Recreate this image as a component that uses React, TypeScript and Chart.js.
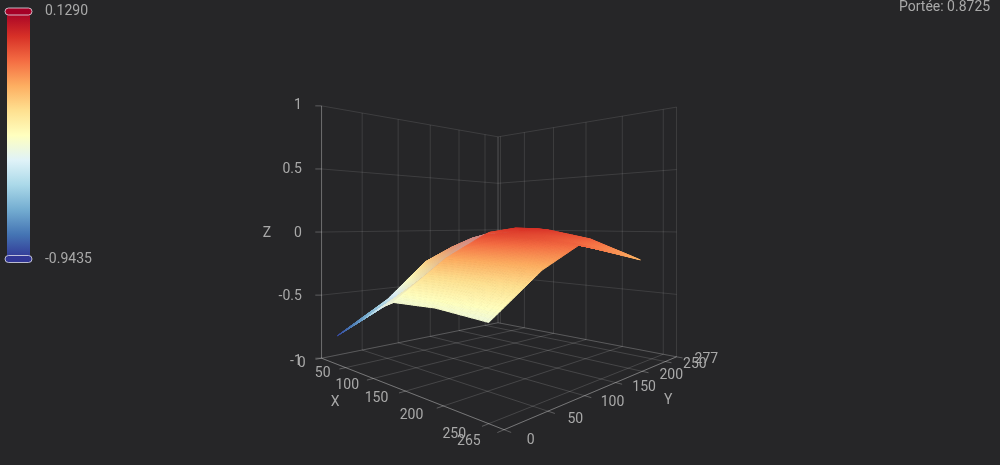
import React, { useEffect, useRef } from "react";
import { Chart, registerables } from "chart.js";

Chart.register(...registerables);

const xTicks = [0, 50, 100, 150, 200, 250, 265];
const yTicks = [0, 50, 100, 150, 200, 250, 277];
const zTicks = [-1, -0.5, 0, 0.5, 1];
const zLabels = ["-1", "-0.5", "0", "0.5", "1"];
const xWallExtra = [5];
const xMax = 265;
const yMax = 277;
const surfaceX = [33, 80, 113, 132, 190, 250];
const surfaceY = [0, 62, 115, 225];
const zRow0 = [-0.785, -0.62, -0.5, -0.45, -0.436, -0.46];
const zRow1 = [-0.555, -0.43, -0.28, -0.18, -0.19, -0.21];
const zRow2 = [-0.27, -0.13, -0.05, -0.02, -0.03, -0.07];
const zRow3 = [-0.02, 0.025, 0.02, 0.01, -0.06, -0.21];
const surfaceZ = [zRow0, zRow1, zRow2, zRow3];
const visualMin = -0.9435;
const visualMax = 0.129;
const rangeText = "Portée: 0.8725";
const palette = ["#313695", "#4575b4", "#74add1", "#abd9e9", "#e0f3f8", "#ffffbf", "#fee090", "#fdae61", "#f46d43", "#d73027", "#a50026"];

const BG = "#262628";
const TEXT = "#a9a9a9";
const FONT = "14px Roboto";

// camera
const CX = 500, CY = 232, A = 177.5, H = 125.5, T = 3, Q = 0.35, ROT = 0.015;

function projectN(sx: number, sy: number, sz: number) {
  const u0 = (sx + sy) / 2;
  const v0 = (sx - sy) / 2;
  const u = u0 + v0 * ROT;
  const v = v0 - u0 * ROT;
  const w = 1 - Q * v;
  return { x: CX + (A * u) / w, y: CY - (H * sz - T * v) / w, w };
}
const nx = (X: number) => (X / xMax) * 2 - 1;
const ny = (Y: number) => (Y / yMax) * 2 - 1;
const project = (X: number, Y: number, Z: number) => projectN(nx(X), ny(Y), Z);

type P = { x: number; y: number };
const GAP: P = { x: NaN, y: NaN };
function seg(list: P[], a: { x: number; y: number }, b: { x: number; y: number }) {
  list.push({ x: a.x, y: a.y }, { x: b.x, y: b.y }, GAP);
}

const wallLines: P[] = [];
yTicks.forEach((Y) => seg(wallLines, project(0, Y, -1), project(0, Y, 1)));
xTicks.concat(xWallExtra).forEach((X) => seg(wallLines, project(X, yMax, -1), project(X, yMax, 1)));
zTicks.forEach((Z) => {
  seg(wallLines, project(0, 0, Z), project(0, yMax, Z));
  seg(wallLines, project(0, yMax, Z), project(xMax, yMax, Z));
});

const floorLines: P[] = [];
xTicks.forEach((X) => seg(floorLines, project(X, 0, -1), project(X, yMax, -1)));
yTicks.forEach((Y) => seg(floorLines, project(0, Y, -1), project(xMax, Y, -1)));

const axisLines: P[] = [];
seg(axisLines, project(0, 0, -1), project(xMax, 0, -1));
seg(axisLines, project(xMax, 0, -1), project(xMax, yMax, -1));
seg(axisLines, project(0, 0, -1), project(0, 0, 1));
xTicks.forEach((X) => seg(axisLines, project(X, 0, -1), projectN(nx(X), -1.05, -1)));
yTicks.forEach((Y) => seg(axisLines, project(xMax, Y, -1), projectN(1.05, ny(Y), -1)));
zTicks.forEach((Z) => seg(axisLines, project(0, 0, Z), projectN(-1.035, -1.035, Z)));

const surfacePoints: P[] = [];
surfaceY.forEach((Y, j) => surfaceX.forEach((X, i) => {
  const p = project(X, Y, surfaceZ[j][i]);
  surfacePoints.push({ x: p.x, y: p.y });
}));

function hexRgb(h: string) {
  return [parseInt(h.slice(1, 3), 16), parseInt(h.slice(3, 5), 16), parseInt(h.slice(5, 7), 16)];
}
const paletteRgb = palette.map(hexRgb);
function colorAt(z: number, grey: number) {
  const t = Math.max(0, Math.min(1, (z - visualMin) / (visualMax - visualMin))) * (palette.length - 1);
  const i = Math.min(palette.length - 2, Math.floor(t));
  const f = t - i;
  const c = [0, 1, 2].map((k) => paletteRgb[i][k] * (1 - f) + paletteRgb[i + 1][k] * f);
  const g = [190, 178, 190];
  return `rgb(${c.map((v, k) => Math.round(v * (1 - grey) + g[k] * grey)).join(",")})`;
}

// lighting on the steep left wing of the surface (column index + fraction, row index + fraction)
function wingGrey(i: number, fa: number, j: number, fb: number) {
  if (i >= 3) return 0;
  const col = i === 0 ? 0.04 + 0.26 * fa : i === 1 ? 0.3 + 0.25 * fa : 0.55;
  const row = j === 0 ? 0.2 + 0.8 * fb : j === 1 ? 1 : Math.max(0, 1 - 2.5 * fb);
  return col * row;
}
// the far sliver of the wing reads darker than its height alone gives
function wingColourBias(i: number, fa: number, j: number, fb: number) {
  if (j !== 0 || i > 1) return 0;
  return (i === 0 ? 0.14 : 0.14 * (1 - fa)) * (1 - fb);
}

const SUB = 20;
const surfacePlugin = {
  id: "surface",
  afterDatasetsDraw(chart: any) {
    const { ctx, scales } = chart;
    const sxp = (v: number) => scales.x.getPixelForValue(v);
    const syp = (v: number) => scales.y.getPixelForValue(v);
    type Cell = { d: number; pts: number[][]; fill: string };
    const cells: Cell[] = [];
    for (let j = 0; j < surfaceY.length - 1; j++) {
      for (let i = 0; i < surfaceX.length - 1; i++) {
        for (let a = 0; a < SUB; a++) {
          for (let b = 0; b < SUB; b++) {
            const at = (fa: number, fb: number) => {
              const X = surfaceX[i] + (surfaceX[i + 1] - surfaceX[i]) * fa;
              const Y = surfaceY[j] + (surfaceY[j + 1] - surfaceY[j]) * fb;
              const Z = (surfaceZ[j][i] * (1 - fa) + surfaceZ[j][i + 1] * fa) * (1 - fb) +
                (surfaceZ[j + 1][i] * (1 - fa) + surfaceZ[j + 1][i + 1] * fa) * fb;
              return { X, Y, Z };
            };
            const corners = [at(a / SUB, b / SUB), at((a + 1) / SUB, b / SUB), at((a + 1) / SUB, (b + 1) / SUB), at(a / SUB, (b + 1) / SUB)];
            const fa = (a + 0.5) / SUB, fb = (b + 0.5) / SUB;
            const c = at(fa, fb);
            const pc = project(c.X, c.Y, c.Z);
            cells.push({
              d: pc.w,
              fill: colorAt(c.Z - wingColourBias(i, fa, j, fb), wingGrey(i, fa, j, fb)),
              pts: corners.map((q) => {
                const p = project(q.X, q.Y, q.Z);
                return [sxp(p.x), syp(p.y)];
              }),
            });
          }
        }
      }
    }
    cells.sort((p, q) => q.d - p.d);
    ctx.save();
    ctx.lineWidth = 1;
    ctx.lineJoin = "round";
    for (const cell of cells) {
      ctx.beginPath();
      cell.pts.forEach((p, k) => (k ? ctx.lineTo(p[0], p[1]) : ctx.moveTo(p[0], p[1])));
      ctx.closePath();
      ctx.fillStyle = cell.fill;
      ctx.strokeStyle = cell.fill;
      ctx.stroke();
      ctx.fill();
    }
    ctx.restore();
  },
};

const labelPlugin = {
  id: "labels3d",
  afterDatasetsDraw(chart: any) {
    const { ctx, scales } = chart;
    const px = (p: { x: number; y: number }) => [scales.x.getPixelForValue(p.x), scales.y.getPixelForValue(p.y)];
    ctx.save();
    ctx.font = FONT;
    ctx.fillStyle = TEXT;
    ctx.textBaseline = "middle";
    ctx.textAlign = "center";
    const M = 0.2;
    xTicks.forEach((X) => {
      const [a, b] = px(projectN(nx(X), -1 - M, -1));
      ctx.fillText(String(X), a + 5 - (12 * X) / xMax, b);
    });
    yTicks.forEach((Y) => {
      const [a, b] = px(projectN(1 + M, ny(Y), -1));
      ctx.fillText(String(Y), a - 3 + (8 * Y) / yMax, b - 1 - (1.5 * Y) / yMax);
    });
    let p = px(projectN(0, -1.412, -1));
    ctx.fillText("X", p[0], p[1]);
    p = px(projectN(1.412, 0, -1));
    ctx.fillText("Y", p[0], p[1]);
    p = px(projectN(-1.31, -1.31, 0));
    ctx.fillText("Z", p[0] + 1, p[1] + 1);
    ctx.textAlign = "right";
    zTicks.forEach((Z, i) => {
      const q = px(projectN(-1.11, -1.11, Z));
      ctx.fillText(zLabels[i], q[0], q[1] + (Z === -1 ? 3 : Z === 1 ? -0.5 : 1));
    });

    // visual map
    const top = 11.5, bottom = 259, left = 7, right = 30;
    const g = ctx.createLinearGradient(0, bottom, 0, top);
    palette.forEach((c, i) => g.addColorStop(i / (palette.length - 1), c));
    ctx.fillStyle = g;
    ctx.fillRect(left, top, right - left, bottom - top);
    const handle = (y: number, fill: string) => {
      ctx.beginPath();
      ctx.roundRect(5, y - 3.5, 27, 7, 3.5);
      ctx.fillStyle = fill;
      ctx.fill();
      ctx.lineWidth = 1;
      ctx.strokeStyle = "rgba(225,225,235,0.8)";
      ctx.stroke();
    };
    handle(top, palette[10]);
    handle(bottom, palette[0]);
    ctx.fillStyle = TEXT;
    ctx.textAlign = "left";
    ctx.fillText(visualMax.toFixed(4), 45, 11);
    ctx.fillText(visualMin.toFixed(4), 45, 259);
    ctx.fillText(rangeText, 899, 7);
    ctx.restore();
  },
};

export default function App() {
  const ref = useRef<HTMLCanvasElement | null>(null);
  useEffect(() => {
    document.body.style.margin = "0";
    document.body.style.background = BG;
    const common = { showLine: true, pointRadius: 0, pointHoverRadius: 0, borderWidth: 1, spanGaps: false, tension: 0 };
    const chart = new Chart(ref.current!, {
      type: "scatter",
      data: {
        datasets: [
          { ...common, label: "walls", data: wallLines, borderColor: "rgba(255,255,255,0.11)" },
          { ...common, label: "floor", data: floorLines, borderColor: "rgba(255,255,255,0.15)" },
          { ...common, label: "axes", data: axisLines, borderColor: "rgba(255,255,255,0.26)" },
          { label: "surface", data: surfacePoints, pointRadius: 0, showLine: false },
        ],
      },
      options: {
        responsive: false,
        animation: false,
        layout: { padding: 0 },
        plugins: { legend: { display: false }, tooltip: { enabled: false } },
        scales: {
          x: { type: "linear", display: false, min: 0, max: 1000 },
          y: { type: "linear", display: false, min: 0, max: 465, reverse: true },
        },
      },
      plugins: [surfacePlugin, labelPlugin],
    } as any);
    return () => chart.destroy();
  }, []);
  return (
    <div style={{ width: 1000, height: 465, background: BG }}>
      <canvas ref={ref} width={1000} height={465} style={{ display: "block" }} />
    </div>
  );
}
